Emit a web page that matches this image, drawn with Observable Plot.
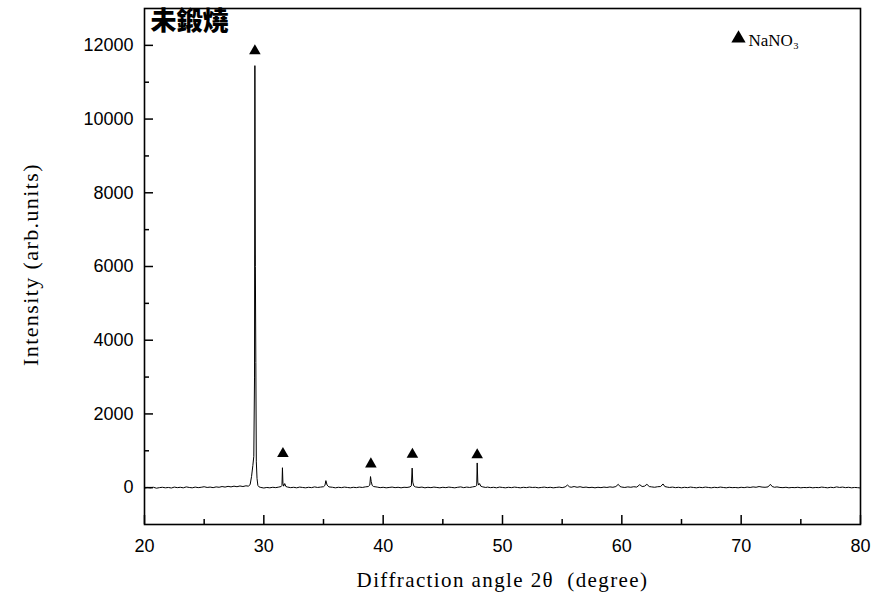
<!DOCTYPE html>
<html>
<head>
<meta charset="utf-8">
<script src="https://cdn.jsdelivr.net/npm/d3@7"></script>
<script src="https://cdn.jsdelivr.net/npm/@observablehq/plot@0.6"></script>
<style>
  html, body { margin: 0; padding: 0; background: #fff; }
  #chart svg text { white-space: pre; }
  #chart svg .axis-title text { letter-spacing: 1.4px; }
</style>
</head>
<body>
<div id="chart"></div>
<script>
// XRD scan of the un-calcined sample: [2θ (degree), intensity (arb. units)]
const scan = [
  [20.00, -10], [20.25, 5], [20.50, -5], [20.75, 10], [21.00, -15], [21.25, 0], [21.50, 10], [21.75, -5],
  [22.00, 5], [22.25, -10], [22.50, 15], [22.75, 0], [23.00, 10], [23.25, -5], [23.50, 20], [23.75, 5],
  [24.00, -5], [24.25, 15], [24.50, 0], [24.75, 10], [25.00, 25], [25.25, 5], [25.50, 15], [25.75, 0],
  [26.00, 20], [26.25, 10], [26.50, 30], [26.75, 15], [27.00, 35], [27.25, 20], [27.50, 40], [27.75, 25],
  [28.00, 45], [28.25, 30], [28.50, 50], [28.70, 40], [28.85, 80], [28.97, 300], [29.08, 600], [29.16, 850],
  [29.22, 3000], [29.25, 11450], [29.29, 6000], [29.33, 3400], [29.37, 700], [29.43, 250], [29.50, 60],
  [29.60, 20], [29.75, 5], [30.00, -10], [30.25, 5], [30.50, -5], [30.75, 10], [31.00, 0], [31.25, 15],
  [31.45, 30], [31.52, 60], [31.56, 540], [31.60, 120], [31.66, 40], [31.75, 110], [31.85, 30], [32.00, 15],
  [32.25, 0], [32.50, 10], [32.75, -5], [33.00, 15], [33.25, 5], [33.50, -5], [33.75, 10], [34.00, 0],
  [34.25, 20], [34.50, 5], [34.75, 15], [35.00, 25], [35.12, 60], [35.20, 190], [35.30, 70], [35.45, 20],
  [35.75, 10], [36.00, -5], [36.25, 10], [36.50, 0], [36.75, 15], [37.00, 5], [37.25, -5], [37.50, 10],
  [37.75, 0], [38.00, 15], [38.25, 5], [38.50, 20], [38.75, 30], [38.88, 70], [38.94, 300], [39.00, 160],
  [39.08, 60], [39.20, 30], [39.50, 15], [39.75, 0], [40.00, 10], [40.25, -5], [40.50, 5], [40.75, 15],
  [41.00, 0], [41.25, 10], [41.50, -5], [41.75, 10], [42.00, 5], [42.25, 20], [42.36, 50], [42.43, 530],
  [42.48, 150], [42.56, 50], [42.70, 20], [43.00, 5], [43.25, 15], [43.50, -5], [43.75, 10], [44.00, 0],
  [44.25, 15], [44.50, 5], [44.75, -5], [45.00, 10], [45.25, 0], [45.50, 15], [45.75, 5], [46.00, -5],
  [46.25, 10], [46.50, 20], [46.75, 0], [47.00, 15], [47.25, 5], [47.50, 20], [47.75, 35], [47.84, 60],
  [47.88, 670], [47.93, 150], [48.00, 70], [48.08, 110], [48.18, 40], [48.35, 20], [48.60, 5], [48.75, 15],
  [49.00, 0], [49.25, 10], [49.50, -5], [49.75, 15], [50.00, 5], [50.25, -5], [50.50, 10], [50.75, 0],
  [51.00, 15], [51.25, 5], [51.50, -5], [51.75, 10], [52.00, 0], [52.25, 15], [52.50, 5], [52.75, 10],
  [53.00, -5], [53.25, 5], [53.50, 15], [53.75, 0], [54.00, 10], [54.25, -5], [54.50, 5], [54.75, 15],
  [55.00, 0], [55.25, 20], [55.45, 70], [55.60, 25], [55.75, 10], [56.00, 30], [56.25, 10], [56.50, 25],
  [56.75, 5], [57.00, 15], [57.25, 0], [57.50, 10], [57.75, -5], [58.00, 10], [58.25, 0], [58.50, 15],
  [58.75, 5], [59.00, 20], [59.25, 10], [59.50, 30], [59.70, 90], [59.85, 30], [60.00, 15], [60.25, 5],
  [60.50, 20], [60.75, 10], [61.00, 25], [61.25, 15], [61.50, 80], [61.70, 30], [61.90, 40], [62.10, 90],
  [62.30, 30], [62.50, 20], [62.75, 10], [63.00, 25], [63.25, 30], [63.45, 100], [63.60, 30], [63.80, 15],
  [64.00, 5], [64.25, 15], [64.50, 0], [64.75, 10], [65.00, -5], [65.25, 10], [65.50, 0], [65.75, 15],
  [66.00, 5], [66.25, -5], [66.50, 10], [66.75, 0], [67.00, 15], [67.25, 5], [67.50, -5], [67.75, 10],
  [68.00, 0], [68.25, 15], [68.50, 5], [68.75, -5], [69.00, 10], [69.25, 0], [69.50, 5], [69.75, -5],
  [70.00, 10], [70.25, 0], [70.50, 15], [70.75, 5], [71.00, 20], [71.25, 10], [71.50, 30], [71.75, 15],
  [72.00, 10], [72.25, 20], [72.45, 90], [72.60, 30], [72.80, 10], [73.00, 20], [73.25, 5], [73.50, 0],
  [73.75, 10], [74.00, -5], [74.25, 5], [74.50, 0], [74.75, 10], [75.00, -5], [75.25, 5], [75.50, 0],
  [75.75, 10], [76.00, -5], [76.25, 5], [76.50, 0], [76.75, 15], [77.00, 5], [77.25, -5], [77.50, 10],
  [77.75, 0], [78.00, 20], [78.25, 5], [78.50, 15], [78.75, 0], [79.00, 10], [79.25, -5], [79.50, 5],
  [79.75, 0], [80.00, -10]
];

// NaNO3 reflections marked with a triangle above each peak
const markAngles = [29.25, 31.60, 38.97, 42.45, 47.88];
const markHeights = [11850, 920, 640, 900, 890];

// axis ticks
const xMajor = [20, 30, 40, 50, 60, 70, 80];
const xMinor = [25, 35, 45, 55, 65, 75];
const yMajor = [0, 2000, 4000, 6000, 8000, 10000, 12000];
const yMinor = [1000, 3000, 5000, 7000, 9000, 11000];

const title = "未鍛燒";
const legendLabel = "NaNO₃";
const xLabel = "Diffraction angle 2θ  (degree)";
const yLabel = "Intensity (arb.units)";

const W = 872, H = 601;
const mL = 144, mR = 12, mT = 8, mB = 77;
const innerW = W - mL - mR, innerH = H - mT - mB;
const majorLen = 9, minorLen = 5;

const points = scan.map(([angle, counts]) => ({angle, counts}));
const marks = markAngles.map((angle, i) => ({angle, counts: markHeights[i]}));

const serif = "'Liberation Serif', 'Times New Roman', serif";

const chart = Plot.plot({
  width: W,
  height: H,
  marginLeft: mL,
  marginRight: mR,
  marginTop: mT,
  marginBottom: mB,
  x: {domain: [20, 80]},
  y: {domain: [-1000, 13000]},
  style: {
    fontFamily: "'Liberation Sans', Arial, sans-serif",
    fontSize: "18px",
    color: "#000",
    background: "#fff"
  },
  marks: [
    // tick labels
    Plot.axisX({ticks: xMajor, tickSize: 0, tickPadding: 15, tickFormat: d => String(d), label: null, fontSize: 18}),
    Plot.axisY({ticks: yMajor, tickSize: 0, tickPadding: 11, tickFormat: d => String(d), label: null, fontSize: 18}),
    // inward tick marks
    Plot.tickX(xMajor, {x: d => d, insetTop: innerH - majorLen, stroke: "#000", strokeWidth: 1.5}),
    Plot.tickX(xMinor, {x: d => d, insetTop: innerH - minorLen, stroke: "#000", strokeWidth: 1.5}),
    Plot.tickY(yMajor, {y: d => d, insetRight: innerW - majorLen, stroke: "#000", strokeWidth: 1.5}),
    Plot.tickY(yMinor, {y: d => d, insetRight: innerW - minorLen, stroke: "#000", strokeWidth: 1.5}),
    // diffraction pattern
    Plot.line(points, {x: "angle", y: "counts", stroke: "#000", strokeWidth: 1}),
    // peak markers
    Plot.dot(marks, {x: "angle", y: "counts", symbol: "triangle", r: 4.3, fill: "#000", stroke: null}),
    Plot.frame({stroke: "#000", strokeWidth: 1.6}),
    // sample name
    Plot.text([title], {
      frameAnchor: "top-left", dx: 6, dy: 3, lineAnchor: "top", textAnchor: "start",
      fontFamily: "'Noto Sans CJK TC', 'Noto Sans CJK SC', sans-serif", fontWeight: 900, fontSize: 26, fill: "#000"
    }),
    // legend
    Plot.dot([legendLabel], {frameAnchor: "top-right", dx: -122, dy: 30, symbol: "triangle", r: 5.3, fill: "#000", stroke: null}),
    Plot.text([legendLabel], {
      frameAnchor: "top-right", dx: -112, dy: 37, lineAnchor: "bottom", textAnchor: "start",
      fontFamily: serif, fontSize: 17, fill: "#000"
    }),
    // axis titles
    Plot.text([yLabel], {
      className: "axis-title",
      frameAnchor: "left", dx: -114, dy: -2, rotate: -90, textAnchor: "middle", lineAnchor: "middle",
      fontFamily: serif, fontSize: 22, fill: "#000"
    }),
    Plot.text([xLabel], {
      className: "axis-title",
      frameAnchor: "bottom", dy: 56, textAnchor: "middle", lineAnchor: "middle",
      fontFamily: serif, fontSize: 21, fill: "#000"
    })
  ]
});

document.getElementById("chart").append(chart);
</script>
</body>
</html>
